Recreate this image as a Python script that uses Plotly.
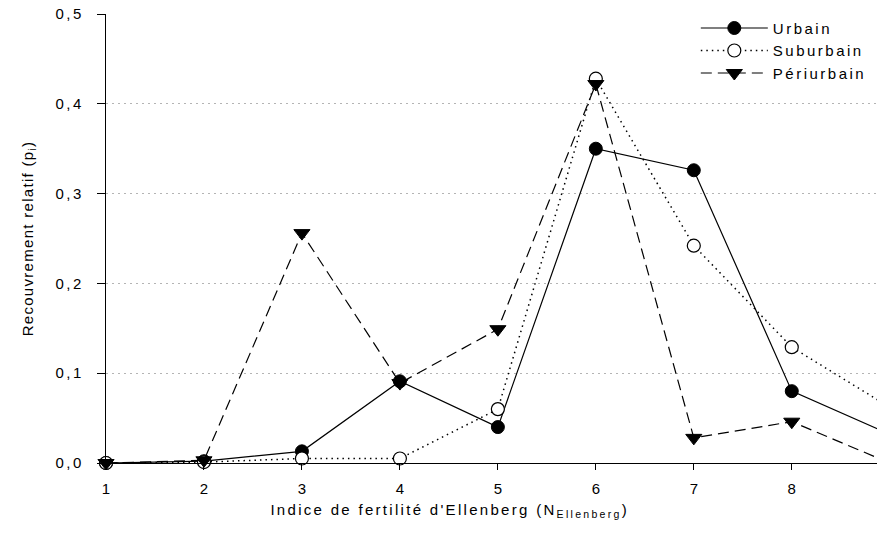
import plotly.graph_objects as go

# Ellenberg nitrogen (fertility) indicator values
n_ellenberg = [1, 2, 3, 4, 5, 6, 7, 8, 9]

# Relative cover (p_i) per urbanisation zone
urbain = [0.0, 0.002, 0.013, 0.091, 0.040, 0.350, 0.326, 0.080, 0.032]
suburbain = [0.0, 0.001, 0.005, 0.005, 0.060, 0.428, 0.242, 0.129, 0.062]
periurbain = [0.0, 0.003, 0.256, 0.089, 0.149, 0.422, 0.028, 0.046, 0.0]

y_ticks = [0.0, 0.1, 0.2, 0.3, 0.4, 0.5]
x_ticks = [1, 2, 3, 4, 5, 6, 7, 8]

FONT = "Liberation Sans, Arial, sans-serif"

fig = go.Figure()

fig.add_trace(go.Scatter(
    x=n_ellenberg, y=urbain, name="Urbain", mode="lines+markers",
    line=dict(color="black", width=1.2, dash="solid"),
    marker=dict(symbol="circle", size=13, color="black",
                line=dict(color="black", width=1)),
    cliponaxis=False,
))
fig.add_trace(go.Scatter(
    x=n_ellenberg, y=suburbain, name="Suburbain", mode="lines+markers",
    line=dict(color="black", width=1.5, dash="1.5px,4px"),
    marker=dict(symbol="circle", size=13, color="white",
                line=dict(color="black", width=1.2)),
    cliponaxis=False,
))
fig.add_trace(go.Scatter(
    x=n_ellenberg, y=periurbain, name="Périurbain", mode="lines+markers",
    line=dict(color="black", width=1.2, dash="11px,6px"),
    marker=dict(symbol="triangle-down", size=14, color="black",
                line=dict(color="black", width=1)),
    cliponaxis=False,
))

fig.update_layout(
    width=877, height=540,
    margin=dict(l=106, r=0, t=14, b=77),
    paper_bgcolor="white", plot_bgcolor="white",
    separators=", ",
    font=dict(family=FONT, size=15, color="black"),
    showlegend=True,
    legend=dict(
        x=0.765, y=1.005, xanchor="left", yanchor="top",
        bgcolor="rgba(0,0,0,0)", borderwidth=0,
        font=dict(family=FONT, size=15, color="black"),
        itemwidth=67,
    ),
    annotations=[dict(
        text="Indice de fertilité d'Ellenberg (N<sub>Ellenberg</sub>)",
        xref="paper", yref="paper", x=0.445, y=0,
        xanchor="center", yanchor="middle", yshift=-47,
        showarrow=False, font=dict(family=FONT, size=15, color="black"),
    )],
)

fig.update_xaxes(
    range=[1, 8.87],
    tickmode="array", tickvals=x_ticks, ticktext=[str(v) for v in x_ticks],
    ticks="outside", ticklen=6, tickwidth=1, tickcolor="black",
    ticklabelstandoff=6,
    showline=True, linecolor="black", linewidth=1.2,
    showgrid=False, zeroline=False,
    tickfont=dict(family=FONT, size=15),
)

fig.update_yaxes(
    range=[0, 0.5],
    tickmode="array", tickvals=y_ticks, tickformat=".1f",
    ticks="outside", ticklen=8, tickwidth=1, tickcolor="black",
    ticklabelstandoff=10,
    showline=True, linecolor="black", linewidth=1.2,
    showgrid=True, gridcolor="#b4b4b4", gridwidth=1, griddash="2px,4px",
    zeroline=False,
    tickfont=dict(family=FONT, size=15),
    title=dict(
        text="Recouvrement relatif (p<sub>i</sub>)",
        font=dict(family=FONT, size=15), standoff=25,
    ),
)

# Spread the glyphs of the labels a little, as in the printed figure
spacing_js = """
var gd = document.getElementById('{plot_id}');
function spread(sel, px) {
    gd.querySelectorAll(sel).forEach(function (el) {
        el.style.letterSpacing = px;
    });
}
spread('.legendtext', '2.5px');
spread('.ytick text', '2.5px');
spread('.annotation-text', '2.3px');
spread('.g-ytitle text', '1.3px');
gd.querySelectorAll('.legend [clip-path]').forEach(function (el) {
    el.removeAttribute('clip-path');
});
"""

fig.write_html("out.html", post_script=spacing_js)
